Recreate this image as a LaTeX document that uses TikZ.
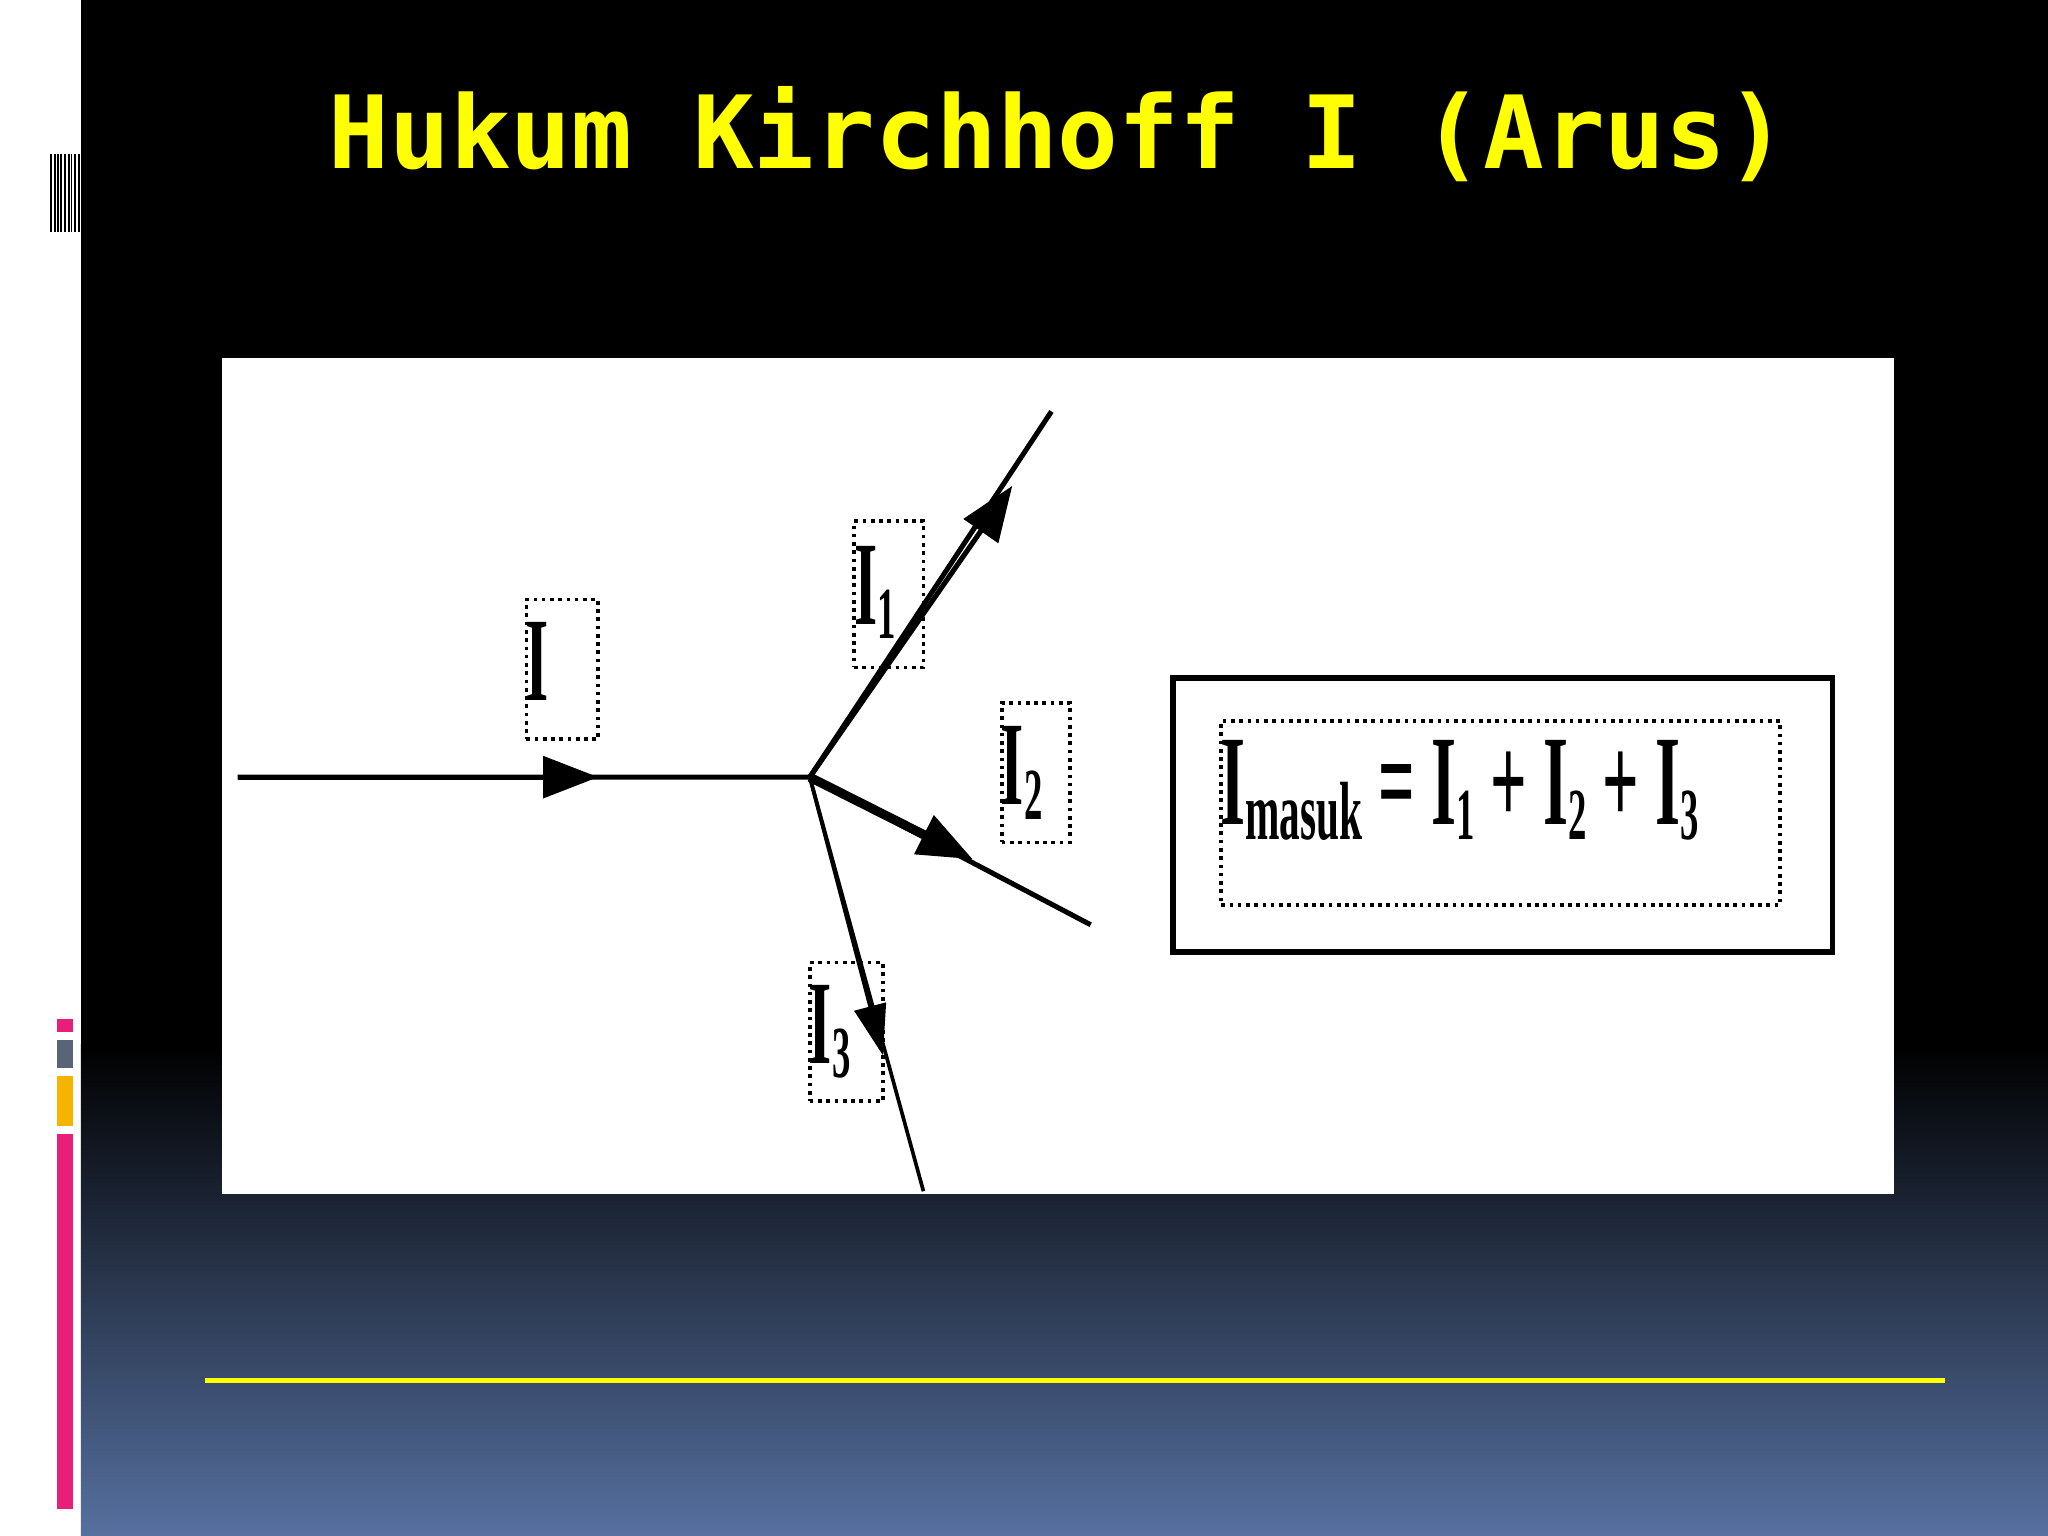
\documentclass[tikz,border=0pt]{standalone}
\usepackage{fontspec}
\setmainfont{Liberation Serif}
\newfontfamily\titlefont{DejaVu Sans Mono}
\usetikzlibrary{arrows.meta}
\definecolor{bluebot}{HTML}{56709F}
\definecolor{ttl}{HTML}{FFFF00}
\definecolor{pinkbar}{HTML}{E91E78}
\definecolor{graybar}{HTML}{5A6478}
\definecolor{orangebar}{HTML}{F5B400}
\newcommand{\sbx}[1]{\raisebox{-0.12em}{\fontsize{32}{32}\selectfont #1}}
\begin{document}
\begin{tikzpicture}[x=0.02cm,y=-0.02cm,
  wire/.style={line width=2.2pt,black},
  arr/.style={-{Triangle[length=24pt,width=18pt]}},
  lbl/.style={draw,dotted,line width=1.6pt,inner sep=0pt},
  ltxt/.style={anchor=north west,inner sep=0pt,font=\fontsize{52}{52}\selectfont},
  eq/.style={anchor=west,inner sep=0pt,font=\fontsize{56}{56}\selectfont}]
\useasboundingbox (0,0) rectangle (1568,1176);
\fill[white] (0,0) rectangle (62,1176);
\fill[black] (62,0) rectangle (1568,800);
\shade[top color=black,bottom color=bluebot] (62,800) rectangle (1568,1176);
\foreach \x in {38,41,44,46,49,52,54,57,60}{\fill[black] (\x,118) rectangle (\x+1.5,178);}
\fill[pinkbar] (44,780) rectangle (56,790);
\fill[graybar] (44,796) rectangle (56,818);
\fill[orangebar] (44,824) rectangle (56,862);
\fill[pinkbar] (44,868) rectangle (56,1155);
\node[text=ttl,font=\titlefont\bfseries\fontsize{44}{44}\selectfont] (title) at (810,103) {Hukum Kirchhoff I (Arus)};
\fill[white] (170,274) rectangle (1450,914);
\fill[ttl] (157,1055) rectangle (1489,1059);
\coordinate (J) at (620,595);
\coordinate (A) at (182,595);
\coordinate (B1) at (805,315);
\coordinate (B2) at (835,708);
\coordinate (B3) at (707,912);
\draw[wire] (A) -- (J) -- (B1);
\draw[wire] (J) -- (B2);
\draw[wire,line width=1.6pt] (J) -- (B3);
\draw[wire,arr] (A) -- (458,595);
\draw[wire,arr] (J) -- (775,372);
\draw[wire,line width=4pt,arr] (J) -- (745,658);
\draw[wire,line width=1.6pt,-{Triangle[length=22pt,width=14pt]}] (J) -- (676,808);
% labels
\node[lbl,minimum width=55*0.02cm,minimum height=107*0.02cm] (lI) at (430.5,512.5) {};
\node[ltxt] at (402,476) {\scalebox{0.5}[1]{\bfseries I}};
\node[lbl,minimum width=53*0.02cm,minimum height=112*0.02cm] (lI1) at (680.5,455) {};
\node[ltxt] at (654,418) {\scalebox{0.5}[1]{\bfseries I\sbx{1}}};
\node[lbl,minimum width=52*0.02cm,minimum height=107*0.02cm] (lI2) at (793,591.5) {};
\node[ltxt] at (766,556) {\scalebox{0.5}[1]{\bfseries I\sbx{2}}};
\node[lbl,minimum width=56*0.02cm,minimum height=106*0.02cm] (lI3) at (648,790) {};
\node[ltxt] at (619,754) {\scalebox{0.5}[1]{\bfseries I\sbx{3}}};
% equation
\node[draw,line width=2.5pt,minimum width=505*0.02cm,minimum height=210*0.02cm] (eqbox) at (1150.5,624) {};
\node[draw,dotted,line width=1.6pt,minimum width=428*0.02cm,minimum height=141*0.02cm] (eqin) at (1149,622.5) {};
\node[eq] (eqt) at (934,605) {\scalebox{0.5}[1]{\bfseries I\raisebox{-0.12em}{\fontsize{36}{36}\selectfont masuk} = I\sbx{1} + I\sbx{2} + I\sbx{3}}};
\end{tikzpicture}
\end{document}
